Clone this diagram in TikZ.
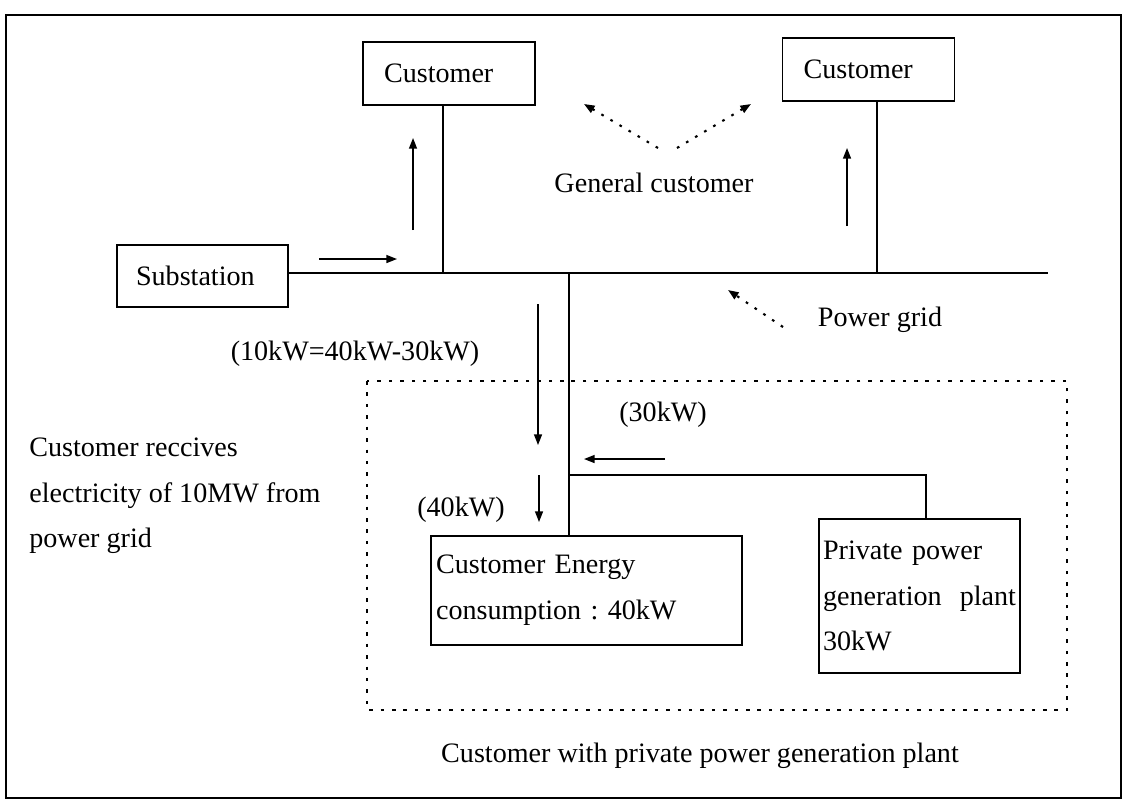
\documentclass[tikz,border=0pt]{standalone}
\usepackage{fontspec}
\setmainfont{Liberation Serif}
\usetikzlibrary{positioning,arrows.meta}

\begin{document}
\begin{tikzpicture}[
            x=0.02cm, y=-0.02cm,
            every node/.style={font=\fontsize{16}{26}\selectfont},
            block/.style={rectangle, draw, line width=0.9pt, align=left, inner ysep=0pt},
            note/.style={inner sep=0pt},
            line/.style={line width=0.9pt},
            arrow/.style={-{Triangle[length=6pt,width=4.5pt]}, line width=0.8pt},
            dotarrow/.style={-{Triangle[length=6pt,width=4.5pt]}, line width=1.2pt, dash pattern=on 1.5pt off 4.5pt}
        ]
        \useasboundingbox (0,0) rectangle (1124,802);
        \draw[line width=0.8pt] (6,15) rectangle (1121,798);
        % boxes
        \node[block, text width=2.6cm, inner xsep=0.42cm, minimum height=1.26cm] (cust1) at (449,73.5) {Customer};
        \node[block, text width=2.6cm, inner xsep=0.42cm, minimum height=1.26cm] (cust2) at (868.5,69.5) {Customer};
        \node[block, text width=2.66cm, inner xsep=0.38cm, minimum height=1.24cm] (sub) at (202.5,276) {Substation};
        \node[block, text width=6.02cm, inner xsep=0.1cm, minimum height=2.18cm] (load) at (586.5,590.5) {Customer Energy\\ consumption :\ 40kW};
        \node[block, text width=3.86cm, inner xsep=0.08cm, minimum height=3.08cm] (plant) at (919.5,596) {Private power\\ generation\hfill plant\\ 30kW};
        % grid
        \coordinate (gridend) at (1048,273);
        \coordinate (tap1) at (443,273);
        \coordinate (tap2) at (877,273);
        \coordinate (tap3) at (569,273);
        \coordinate (feed) at (569,475);
        \coordinate (plantin) at (926,475);
        \draw[line] (sub.east |- gridend) -- (gridend);
        \draw[line] (tap1) -- (tap1 |- cust1.south);
        \draw[line] (tap2) -- (tap2 |- cust2.south);
        \draw[line] (tap3) -- (tap3 |- load.north);
        \draw[line] (feed) -- (plantin) -- (plantin |- plant.north);
        % flows
        \draw[arrow] (319,259) -- (397,259);
        \draw[arrow] (413,230) -- (413,138);
        \draw[arrow] (847,226) -- (847,148);
        \draw[arrow] (538,304) -- (538,445);
        \draw[arrow] (539,475) -- (539,522);
        \draw[arrow] (665,459) -- (584,459);
        % texts
        \node[note] (gen) at (654,183) {General customer};
        \node[note] (grid) at (880,320) {Power grid};
        \node[note] (net) at (355,354) {(10kW=40kW-30kW)};
        \node[note] (own) at (663,415) {(30kW)};
        \node[note] (use) at (461,510) {(40kW)};
        \node[note, anchor=west, align=left] (recv) at (29,496) {Customer reccives\\ electricity of 10MW from\\ power grid};
        \node[note] (caption) at (700,756) {Customer with private power generation plant};
        % dotted pointers
        \draw[dotarrow] (658,148) -- (584,104);
        \draw[dotarrow] (677,148) -- (751,104);
        \draw[dotarrow] (783,327) -- (728,290);
        \draw[line width=1.1pt, dash pattern=on 2pt off 4.5pt] (367,381) rectangle (1067,710);
        \end{tikzpicture}
\end{document}
